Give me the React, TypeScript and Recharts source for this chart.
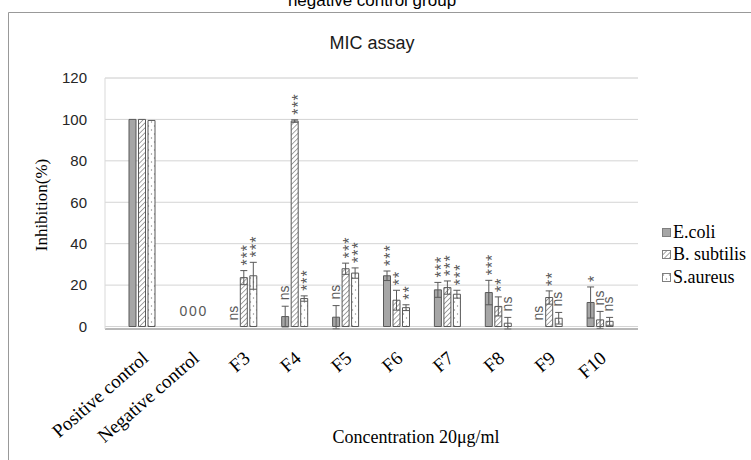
import React from 'react';
import { ComposedChart, Bar, Line, XAxis, YAxis, CartesianGrid, ErrorBar, Legend } from 'recharts';

const categories = ['Positive control', 'Negative control', 'F3', 'F4', 'F5', 'F6', 'F7', 'F8', 'F9', 'F10'];
const ecoli = [100, 0, 0, 4.8, 4.5, 24.5, 17.7, 16.4, 0, 11.6];
const ecoliErr = [0, 0, 0, 5, 5.6, 2.3, 3.6, 5.9, 0, 7.5];
const bsub = [100, 0, 23.6, 99.2, 27.9, 12.7, 18.8, 9.7, 14.0, 3.2];
const bsubErr = [0, 0, 3.4, 0.6, 2.7, 4.8, 3.2, 4.6, 3.2, 4.1];
const saur = [99.5, 0, 24.5, 13.5, 25.8, 9.1, 15.6, 1.6, 4.0, 2.5];
const saurErr = [0, 0, 6.5, 1.3, 2.5, 1.4, 1.9, 2.8, 2.8, 1.9];
const ecoliSig = ['', '0', 'ns', 'ns', 'ns', '***', '***', '***', 'ns', '*'];
const bsubSig = ['', '0', '***', '***', '***', '**', '***', '**', '**', 'ns'];
const saurSig = ['', '0', '***', '***', '***', '**', '***', 'ns', 'ns', 'ns'];
const yTicks = [0, 20, 40, 60, 80, 100, 120];
const minorTicks = [0, 4, 8, 12, 16, 20, 24, 28, 32, 36, 40, 44, 48, 52, 56, 60, 64, 68, 72, 76, 80, 84, 88, 92, 96, 100, 104, 108, 112, 116, 120];

const data = categories.map((c, i) => ({
  name: c,
  ecoli: ecoli[i], ecoliErr: ecoliErr[i], ecoliTop: ecoli[i] + ecoliErr[i],
  bsub: bsub[i], bsubErr: bsubErr[i], bsubTop: bsub[i] + bsubErr[i],
  saur: saur[i], saurErr: saurErr[i], saurTop: saur[i] + saurErr[i],
}));

const SANS = '"Liberation Sans", Arial, sans-serif';
const SERIF = '"Liberation Serif", "Times New Roman", serif';

const makeDot = (labels: string[], offset: number) => (p: any) => {
  const lab = labels[p.index];
  const key = `d-${offset}-${p.index}`;
  if (!lab || p.cx == null || p.cy == null) return <g key={key} />;
  const cx = p.cx + offset;
  if (lab === '0') {
    return (
      <text key={key} x={cx} y={p.cy - 16} textAnchor="middle" dominantBaseline="central" fontFamily={SANS} fontSize={14} fill="#595959">0</text>
    );
  }
  const isStars = lab.startsWith('*');
  const fs = isStars ? 16 : 14;
  const off = isStars ? 9 : 3.8;
  return (
    <text
      key={key}
      transform={`translate(${cx + off},${p.cy - (isStars ? 5 : 6)}) rotate(-90)`}
      textAnchor="start"
      fontFamily={SANS}
      fontSize={fs}
      letterSpacing={isStars ? 1 : 0}
      fill="#595959"
    >
      {lab}
    </text>
  );
};

const XTick = (props: any) => {
  const { x, y, payload } = props;
  return (
    <text
      transform={`translate(${x + 7},${y + 23}) rotate(-41)`}
      textAnchor="end"
      fontFamily={SERIF}
      fontSize={19}
      fill="#000"
    >
      {payload.value}
    </text>
  );
};

const legendItems = [
  { label: 'E.coli', fill: '#a6a6a6' },
  { label: 'B. subtilis', fill: 'url(#hatch)' },
  { label: 'S.aureus', fill: 'url(#dots)' },
];

const LegendContent = () => (
  <div>
    {legendItems.map((it) => (
      <div key={it.label} style={{ display: 'flex', alignItems: 'center', height: 22.5 }}>
        <svg width={9} height={9} style={{ marginRight: 2 }}>
          <rect x={0.5} y={0.5} width={8} height={8} fill={it.fill} stroke="#7f7f7f" />
        </svg>
        <span style={{ fontFamily: SERIF, fontSize: 18, color: '#000', whiteSpace: 'nowrap' }}>{it.label}</span>
      </div>
    ))}
  </div>
);

export default function App() {
  return (
    <div style={{ position: 'absolute', left: 0, top: 0, width: 751, height: 460, background: '#fff' }}>
      <ComposedChart
        width={751}
        height={460}
        data={data}
        margin={{ top: 78, right: 113, bottom: 31, left: 65 }}
        barSize={7}
        barGap={2.5}
      >
        <defs>
          <pattern id="hatch" width="3.5" height="3.5" patternUnits="userSpaceOnUse" patternTransform="rotate(45)">
            <rect width="3.5" height="3.5" fill="#fff" />
            <line x1="0" y1="0" x2="0" y2="3.5" stroke="#7f7f7f" strokeWidth="1.4" />
          </pattern>
          <pattern id="dots" width="6" height="8" patternUnits="userSpaceOnUse">
            <rect width="6" height="8" fill="#fff" />
            <circle cx="1.5" cy="2" r="0.7" fill="#8c8c8c" />
            <circle cx="4.5" cy="6" r="0.7" fill="#8c8c8c" />
          </pattern>
        </defs>
        <YAxis yAxisId="minor" hide domain={[0, 120]} ticks={minorTicks} />
        <CartesianGrid yAxisId="minor" vertical={false} stroke="#ebebeb" />
        <CartesianGrid vertical={false} stroke="#d4d4d4" />
        <XAxis
          dataKey="name"
          height={100}
          interval={0}
          tick={<XTick />}
          tickLine={false}
          axisLine={{ stroke: '#8c8c8c' }}
          padding={{ left: 12, right: 12 }}
        />
        <YAxis
          width={40}
          domain={[0, 120]}
          ticks={yTicks}
          tickLine={false}
          tickMargin={12}
          axisLine={{ stroke: '#d9d9d9' }}
          tick={{ fontFamily: SANS, fontSize: 15, fill: '#262626' }}
        />
        <Legend
          layout="vertical"
          align="center"
          verticalAlign="middle"
          wrapperStyle={{ left: 662, top: 221, width: 95, height: 70 }}
          content={<LegendContent />}
        />
        <Bar dataKey="ecoli" fill="#a6a6a6" stroke="#595959" strokeWidth={1} isAnimationActive={false}>
          <ErrorBar dataKey="ecoliErr" width={3.5} stroke="#595959" strokeWidth={1} />
        </Bar>
        <Bar dataKey="bsub" fill="url(#hatch)" stroke="#595959" strokeWidth={1} isAnimationActive={false}>
          <ErrorBar dataKey="bsubErr" width={3.5} stroke="#595959" strokeWidth={1} />
        </Bar>
        <Bar dataKey="saur" fill="url(#dots)" stroke="#595959" strokeWidth={1} isAnimationActive={false}>
          <ErrorBar dataKey="saurErr" width={3.5} stroke="#595959" strokeWidth={1} />
        </Bar>
        <Line dataKey="ecoliTop" stroke="none" dot={makeDot(ecoliSig, -10)} activeDot={false} legendType="none" isAnimationActive={false} />
        <Line dataKey="bsubTop" stroke="none" dot={makeDot(bsubSig, -0.5)} activeDot={false} legendType="none" isAnimationActive={false} />
        <Line dataKey="saurTop" stroke="none" dot={makeDot(saurSig, 9)} activeDot={false} legendType="none" isAnimationActive={false} />
        <text x={372} y={6} textAnchor="middle" fontFamily={SANS} fontSize={17} fill="#000">negative control group</text>
        <path d="M8.5,460 V12.5 H751" fill="none" stroke="#999" strokeWidth={1} />
        <text x={372} y={49} textAnchor="middle" fontFamily={SANS} fontSize={18} fill="#1a1a1a">MIC assay</text>
        <text transform="translate(47,205) rotate(-90)" textAnchor="middle" fontFamily={SERIF} fontSize={17} fill="#000">Inhibition(%)</text>
        <text x={416} y={443} textAnchor="middle" fontFamily={SERIF} fontSize={18} fill="#000">Concentration 20μg/ml</text>
      </ComposedChart>
    </div>
  );
}
